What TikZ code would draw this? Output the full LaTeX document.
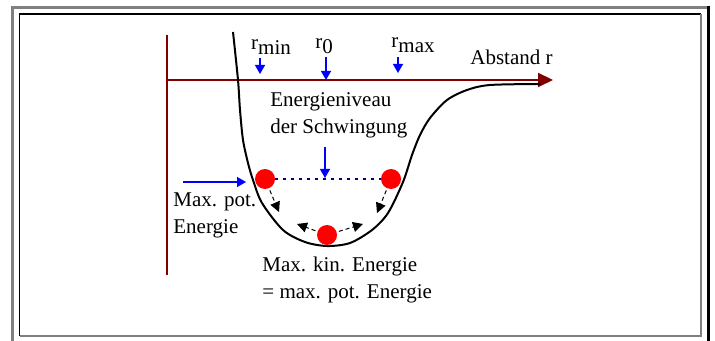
\documentclass[tikz,border=0pt]{standalone}
\usepackage{fontspec}
\setmainfont{Liberation Serif}
\usetikzlibrary{arrows.meta,positioning}
\definecolor{axisred}{RGB}{128,0,0}
\definecolor{ptblue}{RGB}{0,0,255}
\definecolor{dotblue}{RGB}{0,0,128}
\definecolor{framegray}{RGB}{128,128,128}

\begin{document}
\begin{tikzpicture}[x=0.5pt, y=-0.5pt,
      ball/.style={circle, fill=red, minimum size=10pt, inner sep=0pt},
      lbl/.style={font=\fontsize{10.5}{13.5}\selectfont, inner sep=0pt, align=left},
      barr/.style={-{Triangle[length=4.5pt,width=5pt]}, ptblue, line width=0.7pt},
      karr/.style={-{Triangle[length=5pt,width=5pt]}, dash pattern=on 2pt off 1.5pt, line width=0.5pt}
    ]
      \useasboundingbox (0,0) rectangle (715,341);
      \fill[white] (0,0) rectangle (715,341);
      % frame
      \draw[framegray, line width=1.5pt] (12.5,341) -- (12.5,7.5) -- (707,7.5);
      \draw[black, line width=1.75pt] (708.5,6) -- (708.5,341);
      \draw[black, line width=0.6pt] (19.5,336) -- (19.5,14) -- (701,14);
      \draw[framegray, line width=0.6pt] (19.5,336) -- (701,336) -- (701,14);
      % axes
      \draw[axisred, line width=1pt] (167,35) -- (167,275);
      \draw[axisred, line width=1pt, -{Triangle[length=7.5pt,width=7pt]}] (167,80) -- (553,80);
      % potential curve
      \draw[line width=1pt] plot[smooth, tension=0.5] coordinates {
        (233,32) (238,80) (240,110) (243,140) (248,163) (253,180) (262,203)
        (283,230) (305,242) (327,246) (350,243) (372,230) (388,213)
        (403,182) (412,155) (420,135) (430,118) (447,100) (467,90)
        (490,85) (540,84)};
      % labels
      \node[lbl] (rmin) at (271,47) {r\raisebox{-2.5pt}{min}};
      \node[lbl] (rnull) at (324,46) {r\raisebox{-2.5pt}{0}};
      \node[lbl] (rmax) at (413,45) {r\raisebox{-2.5pt}{max}};
      \node[lbl, anchor=east] (abstand) at (553,57) {Abstand r};
      \node[lbl, anchor=west] (level) at (270,115) {Energieniveau\\der Schwingung};
      \node[lbl, anchor=west] (maxpot) at (173,215) {Max. pot.\\Energie};
      \node[lbl, anchor=west] (maxkin) at (262,280) {Max. kin. Energie\\= max. pot. Energie};
      % balls
      \node[ball] (lball) at (265,179) {};
      \node[ball] (rball) at (391,179) {};
      \node[ball] (bball) at (327,235) {};
      \draw[dotblue, line width=1pt, dash pattern=on 1.5pt off 2.5pt] (lball) -- (rball);
      % arrow ends
      \coordinate (rmintip) at (260,74);
      \coordinate (rnulltip) at (326,80);
      \coordinate (rmaxtip) at (398,73);
      \coordinate (levtop) at (325,147);
      \coordinate (levtip) at (325,178);
      \coordinate (potstart) at (183,182);
      \coordinate (pottip) at (246,182);
      \coordinate (la) at (279,212);
      \coordinate (ra) at (377,213);
      \coordinate (bla) at (297,224);
      \coordinate (bra) at (363,224);
      \draw[barr] (rmintip |- rmin.south) ++(0,3) -- (rmintip);
      \draw[barr] (rnulltip |- rnull.south) ++(0,3) -- (rnulltip);
      \draw[barr] (rmaxtip |- rmax.south) ++(0,4) -- (rmaxtip);
      \draw[barr] (levtop) -- (levtip);
      \draw[barr] (potstart) -- (pottip);
      \draw[karr, shorten <=1pt] (lball) -- (la);
      \draw[karr, shorten <=1pt] (rball) -- (ra);
      \draw[karr, shorten <=1pt] (bball) -- (bla);
      \draw[karr, shorten <=1pt] (bball) -- (bra);
    \end{tikzpicture}
\end{document}
